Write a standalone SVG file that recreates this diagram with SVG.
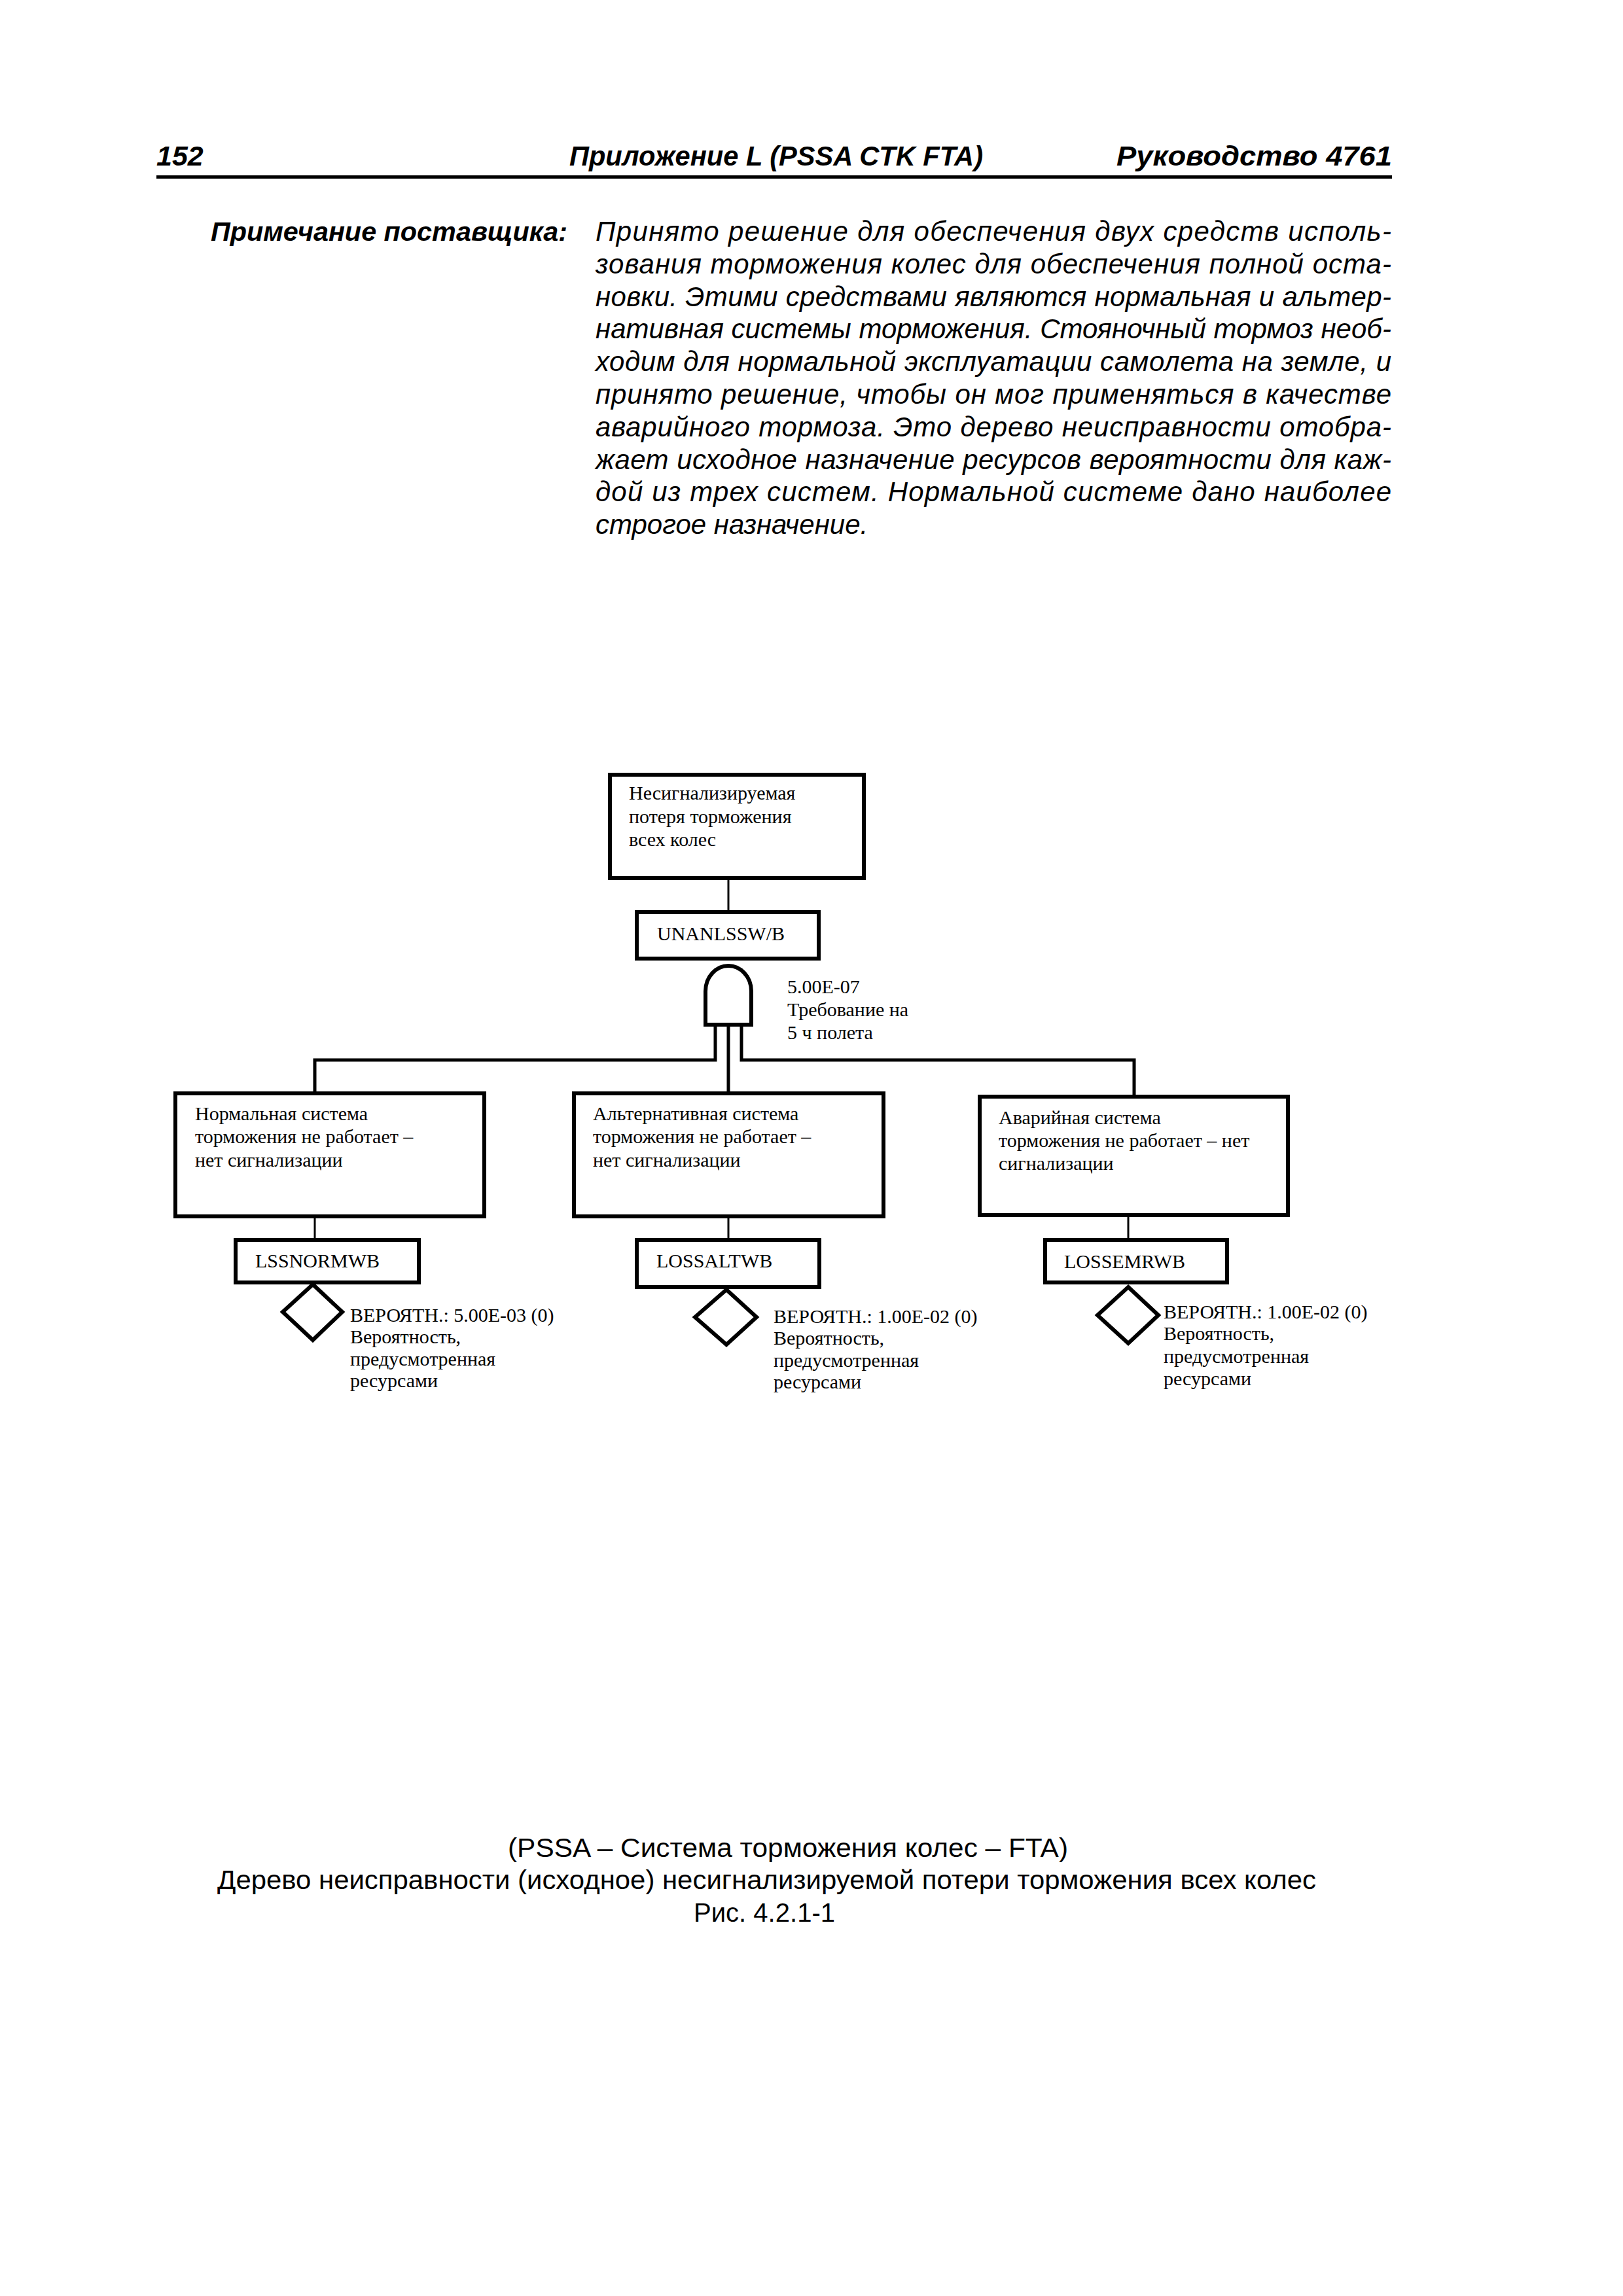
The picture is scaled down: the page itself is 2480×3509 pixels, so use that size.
<svg xmlns="http://www.w3.org/2000/svg" width="2480" height="3509" viewBox="0 0 2480 3509">
<style>
.hd{font-family:"Liberation Sans",Arial,sans-serif;font-weight:bold;font-style:italic;font-size:43px;fill:#000}
.nl{font-family:"Liberation Sans",Arial,sans-serif;font-weight:bold;font-style:italic;font-size:41px;fill:#000}
.pt{font-family:"Liberation Sans",Arial,sans-serif;font-style:italic;font-size:42px;fill:#000}
.cap{font-family:"Liberation Sans",Arial,sans-serif;font-size:40px;fill:#000}
.t{font-family:"Liberation Serif","Times New Roman",serif;font-size:30px;fill:#000}
.box{fill:#fff;stroke:#000;stroke-width:6}
.dia{fill:#fff;stroke:#000;stroke-width:6;stroke-linejoin:miter}
.thin{fill:none;stroke:#000;stroke-width:3}
.thick{fill:none;stroke:#000;stroke-width:5}
</style>
<rect width="2480" height="3509" fill="#fff"/>
<g id="header">
<text class="hd" x="239" y="253">152</text>
<text class="hd" x="870" y="253" textLength="632" lengthAdjust="spacingAndGlyphs">Приложение L (PSSA CTK FTA)</text>
<text class="hd" x="1706" y="253" textLength="421" lengthAdjust="spacingAndGlyphs">Руководство 4761</text>
<rect x="239" y="268" width="1888" height="5" fill="#000"/>
</g>
<g id="note">
<text class="nl" x="322" y="368" textLength="545" lengthAdjust="spacingAndGlyphs">Примечание поставщика:</text>
<text class="pt" x="910" y="368" textLength="1216" lengthAdjust="spacing">Принято решение для обеспечения двух средств исполь-</text>
<text class="pt" x="910" y="418" textLength="1216" lengthAdjust="spacing">зования торможения колес для обеспечения полной оста-</text>
<text class="pt" x="910" y="468" textLength="1216" lengthAdjust="spacing">новки. Этими средствами являются нормальная и альтер-</text>
<text class="pt" x="910" y="517" textLength="1216" lengthAdjust="spacing">нативная системы торможения. Стояночный тормоз необ-</text>
<text class="pt" x="910" y="567" textLength="1216" lengthAdjust="spacing">ходим для нормальной эксплуатации самолета на земле, и</text>
<text class="pt" x="910" y="617" textLength="1216" lengthAdjust="spacing">принято решение, чтобы он мог применяться в качестве</text>
<text class="pt" x="910" y="667" textLength="1216" lengthAdjust="spacing">аварийного тормоза. Это дерево неисправности отобра-</text>
<text class="pt" x="910" y="717" textLength="1216" lengthAdjust="spacing">жает исходное назначение ресурсов вероятности для каж-</text>
<text class="pt" x="910" y="766" textLength="1216" lengthAdjust="spacing">дой из трех систем. Нормальной системе дано наиболее</text>
<text class="pt" x="910" y="816">строгое назначение.</text>
</g>
<g id="connectors">
<path class="thin" d="M1113,1345 V1391"/>
<path class="thin" d="M481,1862 V1892"/>
<path class="thin" d="M1113,1862 V1892"/>
<path class="thin" d="M1724,1860 V1892"/>
<path class="thick" d="M1093,1568 V1620 H481 V1668"/>
<path class="thick" d="M1113,1568 V1668"/>
<path class="thick" d="M1133,1568 V1620 H1733 V1673"/>
</g>
<g id="top-event">
<rect class="box" x="932" y="1184" width="388" height="158"/>
<text class="t" x="961" y="1222">Несигнализируемая</text>
<text class="t" x="961" y="1258">потеря торможения</text>
<text class="t" x="961" y="1293">всех колес</text>
</g>
<g id="top-code">
<rect class="box" x="973" y="1394" width="278" height="71"/>
<text class="t" x="1004" y="1437">UNANLSSW/B</text>
</g>
<g id="and-gate">
<path class="box" d="M1078,1566 V1515 C1078,1492 1095,1476 1113,1476 C1131,1476 1148,1492 1148,1515 V1566 Z"/>
<text class="t" x="1203" y="1518">5.00E-07</text>
<text class="t" x="1203" y="1553">Требование на</text>
<text class="t" x="1203" y="1588">5 ч полета</text>
</g>
<g id="normal">
<rect class="box" x="268" y="1671" width="472" height="188"/>
<text class="t" x="298" y="1712">Нормальная система</text>
<text class="t" x="298" y="1747">торможения не работает –</text>
<text class="t" x="298" y="1783">нет сигнализации</text>
</g>
<g id="normal-code">
<rect class="box" x="360" y="1895" width="280" height="65"/>
<text class="t" x="390" y="1937">LSSNORMWB</text>
</g>
<g id="normal-basic">
<polygon class="dia" points="478,1963 523,2005 478,2048 432,2005"/>
<text class="t" x="535" y="2020">ВЕРОЯТН.: 5.00E-03 (0)</text>
<text class="t" x="535" y="2053">Вероятность,</text>
<text class="t" x="535" y="2087">предусмотренная</text>
<text class="t" x="535" y="2120">ресурсами</text>
</g>
<g id="alternate">
<rect class="box" x="877" y="1671" width="473" height="188"/>
<text class="t" x="906" y="1712">Альтернативная система</text>
<text class="t" x="906" y="1747">торможения не работает –</text>
<text class="t" x="906" y="1783">нет сигнализации</text>
</g>
<g id="alternate-code">
<rect class="box" x="973" y="1895" width="279" height="72"/>
<text class="t" x="1003" y="1937">LOSSALTWB</text>
</g>
<g id="alternate-basic">
<polygon class="dia" points="1110,1971 1156,2013 1110,2055 1062,2013"/>
<text class="t" x="1182" y="2022">ВЕРОЯТН.: 1.00E-02 (0)</text>
<text class="t" x="1182" y="2055">Вероятность,</text>
<text class="t" x="1182" y="2089">предусмотренная</text>
<text class="t" x="1182" y="2122">ресурсами</text>
</g>
<g id="emergency">
<rect class="box" x="1497" y="1676" width="471" height="181"/>
<text class="t" x="1526" y="1718">Аварийная система</text>
<text class="t" x="1526" y="1753">торможения не работает – нет</text>
<text class="t" x="1526" y="1788">сигнализации</text>
</g>
<g id="emergency-code">
<rect class="box" x="1597" y="1895" width="278" height="65"/>
<text class="t" x="1626" y="1938">LOSSEMRWB</text>
</g>
<g id="emergency-basic">
<polygon class="dia" points="1724,1967 1770,2010 1724,2053 1677,2010"/>
<text class="t" x="1778" y="2015">ВЕРОЯТН.: 1.00E-02 (0)</text>
<text class="t" x="1778" y="2048">Вероятность,</text>
<text class="t" x="1778" y="2083">предусмотренная</text>
<text class="t" x="1778" y="2117">ресурсами</text>
</g>
<g id="caption">
<text class="cap" x="776" y="2838" textLength="856" lengthAdjust="spacingAndGlyphs">(PSSA – Система торможения колес – FTA)</text>
<text class="cap" x="332" y="2887" textLength="1679" lengthAdjust="spacingAndGlyphs">Дерево неисправности (исходное) несигнализируемой потери торможения всех колес</text>
<text class="cap" x="1060" y="2937" textLength="216" lengthAdjust="spacingAndGlyphs">Рис. 4.2.1-1</text>
</g>
</svg>
